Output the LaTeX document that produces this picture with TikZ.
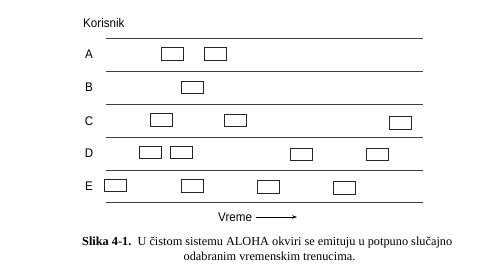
\documentclass[tikz,border=0pt]{standalone}
\usepackage{fontspec}
\setmainfont{Liberation Serif}
\newfontfamily\labelfont[FakeStretch=0.93]{Liberation Sans}
\usetikzlibrary{arrows.meta}
\begin{document}
\begin{tikzpicture}[x=1pt,y=-1pt,
  lane/.style={line width=0.8pt,draw=black!75},
  frame/.style={draw=black!85,line width=0.6pt,minimum width=22pt,minimum height=12.5pt,inner sep=0pt},
  who/.style={font=\labelfont\fontsize{12.5}{13}\selectfont,inner sep=0pt},
  captext/.style={font=\fontsize{12.3}{14}\selectfont,inner sep=0pt}]
\useasboundingbox (0,0) rectangle (486,277);

% title of the row axis
\node[who,anchor=west] (kor) at (83,23) {Korisnik};

% separating lines between the users' time rows
\foreach \y in {38,71,104,137,170,202}
  \draw[lane] (106,\y) -- (423,\y);

% user labels
\node[who] (uA) at (89,54) {A};
\node[who] (uB) at (89,87.5) {B};
\node[who] (uC) at (89,121) {C};
\node[who] (uD) at (89,153.5) {D};
\node[who] (uE) at (89,186) {E};

% frames sent by each user
\node[frame] (a1) at (172,54) {};
\node[frame] (a2) at (215,54) {};
\node[frame] (b1) at (192.5,87.5) {};
\node[frame] (c1) at (161.5,120) {};
\node[frame] (c2) at (235.5,120.5) {};
\node[frame] (c3) at (400,123) {};
\node[frame] (d1) at (150,152.5) {};
\node[frame] (d2) at (181.5,152.5) {};
\node[frame] (d3) at (301,154.5) {};
\node[frame] (d4) at (377.5,154.5) {};
\node[frame] (e1) at (115.5,185.5) {};
\node[frame] (e2) at (192,186) {};
\node[frame] (e3) at (268,187) {};
\node[frame] (e4) at (344.5,188) {};

% time axis
\node[who,anchor=west] (vr) at (218,217) {Vreme};
\coordinate (tend) at (297,217);
\draw[line width=0.6pt,-{Stealth[length=5pt,width=3.5pt]}] ([xshift=4pt]vr.east) -- (tend);

% caption
\node[captext,anchor=west] (capA) at (82,243) {\textbf{Slika 4-1.}\ \ U čistom sistemu ALOHA okviri se emituju u potpuno slučajno};
\node[captext] (capB) at (269.5,256) {odabranim vremenskim trenucima.};
\end{tikzpicture}
\end{document}
